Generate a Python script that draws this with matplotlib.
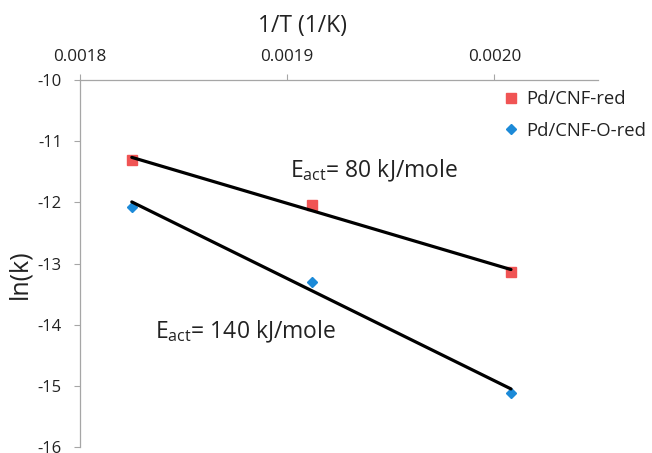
import numpy as np
import matplotlib
matplotlib.use("Agg")
import matplotlib.pyplot as plt
from matplotlib.lines import Line2D

plt.rcParams['font.family'] = ['Open Sans', 'DejaVu Sans']
plt.rcParams['mathtext.fontset'] = 'custom'
plt.rcParams['mathtext.rm'] = 'Open Sans'
plt.rcParams['axes.unicode_minus'] = False

# data
inv_T = [0.001825, 0.001912, 0.002008]
lnk_red = [-11.31, -12.05, -13.14]
lnk_ored = [-12.07, -13.30, -15.12]
series_names = ["Pd/CNF-red", "Pd/CNF-O-red"]
x_ticks = [0.0018, 0.0019, 0.0020]
x_tick_labels = ["0.0018", "0.0019", "0.0020"]
y_ticks = [-10, -11, -12, -13, -14, -15, -16]

W, H = 652, 453
fig = plt.figure(figsize=(W / 100, H / 100), dpi=100)
ax = fig.add_axes([80 / W, 1 - 447 / H, (598 - 80) / W, (447 - 80) / H])

red = '#f05454'
blue = '#1c8ad8'
grey = '#a6a6a6'
txt = '#222222'

ax.plot(inv_T, lnk_red, 's', color=red, markersize=7.5, zorder=2)
ax.plot(inv_T, lnk_ored, 'D', color=blue, markersize=5.5, zorder=2)

# linear fits
x = np.array(inv_T)
for yv in (lnk_red, lnk_ored):
    a, b = np.polyfit(x, yv, 1)
    ax.plot(x[[0, -1]], a * x[[0, -1]] + b, color='black', lw=2.3, zorder=3,
            solid_capstyle='round')

ax.set_xlim(0.0018, 0.00205)
ax.set_ylim(-16, -10)
ax.xaxis.tick_top()
ax.set_xticks(x_ticks)
ax.set_xticklabels(x_tick_labels)
ax.set_yticks(y_ticks)
ax.tick_params(axis='x', direction='out', length=4, width=0.8, color=grey,
               labelsize=12.3, pad=7, labelcolor=txt)
ax.tick_params(axis='y', direction='out', length=4, width=0.8, color=grey,
               labelsize=12, pad=9, labelcolor=txt)
for s in ['right', 'bottom']:
    ax.spines[s].set_visible(False)
for s in ['top', 'left']:
    ax.spines[s].set_color(grey)
    ax.spines[s].set_linewidth(0.9)

fig.text(302 / W, 1 - 26 / H, "1/T (1/K)", ha='center', va='center', fontsize=16.5,
         color=txt)
fig.text(20 / W, 1 - 274 / H, "ln(k)", ha='center', va='center', rotation=90,
         fontsize=18, color=txt)

ax.text(0.0019012, -11.49, r"E$_{\mathregular{act}}$= 80 kJ/mole", fontsize=16.5,
        va='center', ha='left', color=txt)
ax.text(0.0018361, -14.11, r"E$_{\mathregular{act}}$= 140 kJ/mole", fontsize=16.5,
        va='center', ha='left', color=txt)

handles = [Line2D([], [], ls='none', marker='s', color=red, markersize=7),
           Line2D([], [], ls='none', marker='D', color=blue, markersize=5)]
fig.legend(handles, series_names, loc='upper left',
           bbox_to_anchor=(504 / W, 1 - 90 / H), frameon=False, fontsize=13.3,
           handlelength=0.8, handletextpad=0.4, labelspacing=0.75,
           borderaxespad=0, borderpad=0, labelcolor=txt)

fig.savefig("out.png", dpi=100)
